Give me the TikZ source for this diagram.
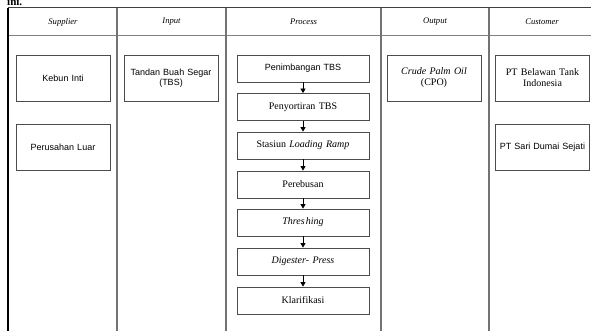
\documentclass[tikz,border=0pt]{standalone}
\usepackage{fontspec}
\setmainfont{Liberation Serif}
\newfontfamily\arialf{Liberation Sans}
\usetikzlibrary{arrows.meta}
\begin{document}
\begin{tikzpicture}[x=1pt,y=-1pt,
  boxbase/.style={draw=black!70,line width=0.8pt,fill=white,inner sep=1pt,align=center},
  sbox/.style={boxbase,minimum width=94pt,minimum height=46pt,text width=90pt},
  pbox/.style={boxbase,minimum width=132pt,minimum height=27pt,text width=128pt},
  sanstxt/.style={font=\arialf\fontsize{9}{10.5}\selectfont},
  seriftxt/.style={font=\fontsize{10}{11}\selectfont},
  headtxt/.style={font=\itshape\fontsize{8.6}{10}\selectfont},
  colline/.style={draw=black!55,line width=1.1pt},
  flow/.style={draw=black,line width=0.8pt,-{Triangle[width=5pt,length=4.5pt]}}]
\clip (0,0) rectangle (591,331);
\useasboundingbox (0,0) rectangle (591,331);
\fill[white] (0,0) rectangle (591,331);
% partial text above the table
\node[anchor=base west,inner sep=0,font=\bfseries\fontsize{11}{12}\selectfont] (ini) at (7,5.5) {ini.};
% table lines
\coordinate (tl) at (8,8);
\coordinate (tr) at (591,8);
\coordinate (hl) at (8,36);
\coordinate (hr) at (591,36);
\draw[draw=black!75,line width=1pt] (tl) -- (tr);
\draw[draw=black!50,line width=1pt] (hl) -- (hr);
\draw[draw=black,line width=1.1pt] (8,8) -- (8,331);
\draw[colline] (117,8) -- (117,331);
\draw[colline] (226,8) -- (226,331);
\draw[colline] (381,8) -- (381,331);
\draw[colline] (489,8) -- (489,331);
% headers
\node[headtxt] (h1) at (63,22) {Supplier};
\node[headtxt] (h2) at (171.5,22) {Input};
\node[headtxt] (h3) at (303.5,22) {Process};
\node[headtxt] (h4) at (435,22) {Output};
\node[headtxt] (h5) at (542,22) {Customer};
% supplier
\node[sbox,sanstxt] (kebun) at (63,78) {Kebun Inti};
\node[sbox,sanstxt] (luar) at (63,147.5) {Perusahan Luar};
% input
\node[sbox,sanstxt] (tbs) at (171,78) {Tandan Buah Segar\\(TBS)};
% output
\node[sbox,seriftxt] (cpo) at (434,78) {\textit{Crude Palm Oil}\\(CPO)};
% customer
\node[sbox,seriftxt] (belawan) at (542.5,78) {PT Belawan Tank\\Indonesia};
\node[sbox,sanstxt] (sari) at (542.5,147.5) {PT Sari Dumai Sejati};
% process
\node[pbox,sanstxt] (p1) at (303,68.5) {Penimbangan TBS};
\node[pbox,seriftxt] (p2) at (303,107) {Penyortiran TBS};
\node[pbox,seriftxt] (p3) at (303,145.5) {Stasiun \textit{Loading Ramp}};
\node[pbox,seriftxt] (p4) at (303,184.5) {Perebusan};
\node[pbox,seriftxt] (p5) at (303,222.5) {\textit{Thres\kern1pt hing}};
\node[pbox,seriftxt] (p6) at (303,261.5) {\textit{Digester- Press}};
\node[pbox,seriftxt] (p7) at (303,300.5) {Klarifikasi};
\draw[flow] (p1) -- (p2);
\draw[flow] (p2) -- (p3);
\draw[flow] (p3) -- (p4);
\draw[flow] (p4) -- (p5);
\draw[flow] (p5) -- (p6);
\draw[flow] (p6) -- (p7);
\end{tikzpicture}
\end{document}
